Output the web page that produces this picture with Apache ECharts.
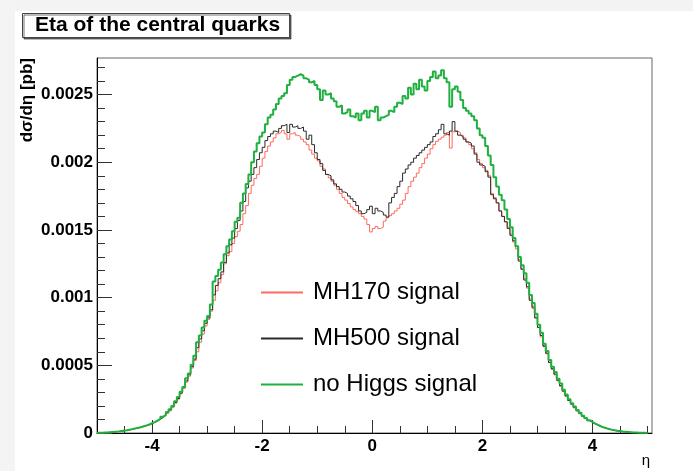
<!DOCTYPE html>
<html>
<head>
<meta charset="utf-8">
<script src="https://cdn.jsdelivr.net/npm/echarts@6/dist/echarts.min.js"></script>
<style>
  html, body { margin: 0; padding: 0; background: #ffffff; }
  #chart { width: 693px; height: 471px; }
</style>
</head>
<body>
<div id="chart"></div>
<script>
// Histogram binning: 200 bins of width 0.05 from eta = -5 to 5
const BIN_LO = -5;
const BIN_W = 0.05;
// Bin contents are given in units of 1e-5 pb
const UNIT = 1e-5;

const seriesNames = ['MH170 signal', 'MH500 signal', 'no Higgs signal'];

const mh170 = [
  0.1, 0.2, 0.3, 0.4, 0.5, 0.7, 0.9, 1.1, 1.4, 1.7,
  2.0, 2.3, 2.7, 3.2, 3.7, 4.2, 4.8, 5.4, 6.0, 6.9,
  7.8, 8.8, 10.0, 11.4, 12.8, 14.6, 16.5, 19.0, 22.0, 25.0,
  29, 33, 37.5, 42, 48, 53.5, 60, 67, 73, 79,
  84, 90, 98, 105, 111, 117, 125, 131, 134, 140,
  145, 149, 154, 162, 168, 177, 183, 188, 191, 197,
  203, 208, 212, 215, 218, 221, 222, 223.5, 221, 217,
  221, 222, 220, 219, 217, 215, 213, 209, 206, 203,
  201, 197, 195, 191, 188.5, 186, 183, 180, 177, 174,
  172, 169.5, 167, 165, 163.5, 162, 160, 158, 154, 148.5,
  151, 152.5, 151, 152, 156.5, 159, 160.5, 162, 164, 166,
  169, 172, 177, 182, 186, 189, 192, 196, 199, 203,
  206, 210, 213, 215.5, 217, 218.5, 220, 222, 210.5, 222.5,
  223, 222, 220, 218, 215, 213, 210, 207, 202, 199,
  196, 194, 190, 177, 174, 170, 164, 160, 156, 152,
  147, 141, 136, 128, 121, 114, 107, 99, 92, 85,
  78, 71, 64.5, 58.5, 52.5, 47, 43, 38.5, 34.5, 30.5,
  27, 24, 21, 18.5, 16.2, 14.2, 12.2, 10.6, 9.0, 7.8,
  6.7, 5.7, 4.8, 4.0, 3.4, 2.8, 2.3, 1.9, 1.6, 1.3,
  1.0, 0.8, 0.6, 0.5, 0.4, 0.3, 0.2, 0.15, 0.1, 0.05
];

const mh500 = [
  0.1, 0.2, 0.3, 0.4, 0.5, 0.7, 0.9, 1.2, 1.4, 1.7,
  2.0, 2.4, 2.8, 3.3, 3.8, 4.3, 4.8, 5.5, 6.1, 7.0,
  7.9, 9.0, 10.2, 11.6, 13.0, 15.0, 17.0, 19.5, 22.5, 25.5,
  29.5, 33.5, 38.5, 43.0, 49.0, 54.5, 63.0, 69.5, 75.5, 81.0,
  85, 91, 102, 109, 114, 119, 126, 133, 139, 144,
  151, 157, 164, 171, 181, 186, 191, 196, 202, 207,
  211, 216, 219, 221, 223, 222, 225, 227, 228, 222,
  228, 226, 227, 225, 226, 223, 217, 220, 213, 207,
  202, 199, 194, 191, 190, 187, 184, 182, 180, 178,
  177, 175, 173, 171, 168, 164, 162, 163, 165, 167.5,
  162, 166, 164, 163, 161, 159.5, 170, 174, 177, 182,
  186, 192, 195, 198, 200, 203, 205, 207, 209, 211,
  213, 215, 219, 221, 224, 228, 221, 220, 223, 230,
  223, 220, 219, 217, 215, 214, 212, 206, 200, 198,
  197, 193, 189, 176, 173, 170, 164, 160, 156, 151,
  146, 142, 138, 127, 121, 113, 108, 98, 93, 85,
  78, 72, 64, 59, 52, 47.5, 43.5, 39, 35, 31,
  27.5, 24, 21.5, 19, 16.5, 14.5, 12.5, 10.8, 9.2, 8.0,
  6.8, 5.8, 4.9, 4.1, 3.5, 2.9, 2.4, 2.0, 1.6, 1.3,
  1.1, 0.8, 0.6, 0.5, 0.4, 0.3, 0.2, 0.15, 0.1, 0.05
];

const noHiggs = [
  0.1, 0.2, 0.3, 0.4, 0.6, 0.8, 1.0, 1.2, 1.5, 1.8,
  2.1, 2.5, 2.9, 3.4, 3.9, 4.3, 5.0, 5.6, 6.3, 7.2,
  8.0, 9.2, 10.5, 12.0, 13.4, 15.6, 17.5, 20.0, 23.5, 26.5,
  30.5, 34.0, 40.5, 44.0, 50.5, 57.0, 67.0, 72.0, 78.0, 83.0,
  86.5, 95.0, 112.0, 116.0, 120.5, 126.0, 132.0, 138.0, 143.0, 149.0,
  156, 159, 170, 177, 184, 191, 200, 208, 214, 219,
  222, 228, 233, 235, 239, 243, 247, 249, 251, 257,
  261, 263, 264, 265, 264, 262, 261, 259, 260, 257,
  254, 246, 253, 250, 251, 247, 245, 241, 242, 236,
  237, 239, 234, 233, 236, 231, 236, 238, 233, 238,
  237, 241, 231, 233, 234, 235, 238, 237, 241, 244,
  243, 249, 247, 255, 250, 258, 254, 261, 256, 253,
  260, 263, 267, 262, 264, 268, 262, 259, 241, 254,
  256, 252, 246, 240, 238, 236, 234, 231, 225, 220,
  218, 212, 205, 198, 189, 182, 176, 172, 165, 158,
  152, 144, 138, 130, 124, 118, 111, 102, 96, 88,
  80, 74, 66, 60.5, 54, 49, 45, 40, 36.5, 32,
  28.5, 25, 22, 19.5, 17, 15, 12.8, 11, 9.5, 8.2,
  7.0, 6.0, 5.0, 4.2, 3.6, 3.0, 2.5, 2.1, 1.7, 1.4,
  1.1, 0.9, 0.7, 0.5, 0.4, 0.3, 0.2, 0.15, 0.1, 0.05
];

// Axis ticks and labels
const xMajorTicks = [-4, -2, 0, 2, 4];
const xMinorTicks = [-4.5, -4, -3.5, -3, -2.5, -2, -1.5, -1, -0.5, 0, 0.5, 1, 1.5, 2, 2.5, 3, 3.5, 4, 4.5, 5];
const yMajorTicks = [0, 0.0005, 0.001, 0.0015, 0.002, 0.0025];
const yMinorTicks = [0, 0.0001, 0.0002, 0.0003, 0.0004, 0.0005, 0.0006, 0.0007, 0.0008, 0.0009,
  0.001, 0.0011, 0.0012, 0.0013, 0.0014, 0.0015, 0.0016, 0.0017, 0.0018, 0.0019,
  0.002, 0.0021, 0.0022, 0.0023, 0.0024, 0.0025, 0.0026, 0.0027];

const X_MIN = -5, X_MAX = 5.08;
const Y_MIN = 0, Y_MAX = 0.00277;

// Turn bin contents into step-line points at the bin edges
function histPoints(values) {
  const pts = values.map((v, i) => [BIN_LO + i * BIN_W, v * UNIT]);
  pts.push([BIN_LO + values.length * BIN_W, values[values.length - 1] * UNIT]);
  return pts;
}

const FONT = '"Liberation Sans", Arial, Helvetica, sans-serif';

const chart = echarts.init(document.getElementById('chart'), null, { renderer: 'canvas' });

const axisCommonX = { type: 'value', min: X_MIN, max: X_MAX, position: 'bottom', splitLine: { show: false } };
const axisCommonY = { type: 'value', min: Y_MIN, max: Y_MAX, position: 'left', splitLine: { show: false } };

chart.setOption({
  animation: false,
  backgroundColor: '#ffffff',
  title: {
    text: 'Eta of the central quarks',
    left: 22, top: 13,
    padding: [2, 10, 2, 13],
    backgroundColor: '#ffffff',
    borderColor: '#444',
    borderWidth: 1,
    shadowColor: 'rgba(0,0,0,0.55)',
    shadowOffsetX: 1.5, shadowOffsetY: 1.5, shadowBlur: 0,
    textStyle: { fontFamily: FONT, fontWeight: 'bold', fontSize: 21, color: '#000' }
  },
  grid: {
    left: 97, top: 58, width: 555, height: 375,
    show: true, borderColor: '#666', borderWidth: 1, backgroundColor: 'transparent'
  },
  legend: {
    orient: 'vertical',
    left: 261, top: 279,
    padding: 0,
    icon: 'rect',
    itemWidth: 42, itemHeight: 2, itemGap: 19,
    data: seriesNames,
    textStyle: { fontFamily: FONT, fontSize: 24, color: '#000', padding: [0, 0, 0, 5], lineHeight: 27 }
  },
  xAxis: [
    Object.assign({}, axisCommonX, {
      axisLine: { show: true, onZero: false, lineStyle: { color: '#000', width: 1 } },
      axisTick: { show: true, inside: true, length: 7, customValues: xMinorTicks, lineStyle: { color: '#333' } },
      axisLabel: {
        show: true, customValues: xMajorTicks, margin: 5,
        fontFamily: FONT, fontWeight: 'bold', fontSize: 17, color: '#000',
        formatter: v => String(v)
      }
    }),
    Object.assign({}, axisCommonX, {
      axisLine: { show: false, onZero: false },
      axisTick: { show: true, inside: true, length: 13, customValues: xMajorTicks, lineStyle: { color: '#333' } },
      axisLabel: { show: false }
    })
  ],
  yAxis: [
    Object.assign({}, axisCommonY, {
      axisLine: { show: true, onZero: false, lineStyle: { color: '#000', width: 1 } },
      axisTick: { show: true, inside: true, length: 8, customValues: yMinorTicks, lineStyle: { color: '#333' } },
      axisLabel: {
        show: true, customValues: yMajorTicks, margin: 4,
        fontFamily: FONT, fontWeight: 'bold', fontSize: 17, color: '#000',
        formatter: v => String(+v.toFixed(4))
      }
    }),
    Object.assign({}, axisCommonY, {
      axisLine: { show: false, onZero: false },
      axisTick: { show: true, inside: true, length: 15, customValues: yMajorTicks, lineStyle: { color: '#333' } },
      axisLabel: { show: false }
    })
  ],
  series: [
    {
      name: seriesNames[0], type: 'line', step: 'end', symbol: 'none',
      data: histPoints(mh170), z: 3,
      itemStyle: { color: '#ff6a5c' },
      lineStyle: { color: '#ff6a5c', width: 1 }
    },
    {
      name: seriesNames[1], type: 'line', step: 'end', symbol: 'none',
      data: histPoints(mh500), z: 4,
      itemStyle: { color: '#2a2a2a' },
      lineStyle: { color: '#2a2a2a', width: 1 }
    },
    {
      name: seriesNames[2], type: 'line', step: 'end', symbol: 'none',
      data: histPoints(noHiggs), z: 5,
      itemStyle: { color: '#1fb040' },
      lineStyle: { color: '#1fb040', width: 2 }
    }
  ],
  graphic: [
    // light window margins along the top and left edges
    { type: 'rect', left: 0, top: 0, shape: { width: 693, height: 11 }, style: { fill: '#f3f3f3' }, z: -10 },
    { type: 'rect', left: 0, top: 0, shape: { width: 15, height: 471 }, style: { fill: '#f4f4f4' }, z: -10 },
    // axis titles
    {
      type: 'text', x: 27, y: 58, rotation: Math.PI / 2,
      style: { text: 'd\u03c3/d\u03b7 [pb]', font: 'bold 17px ' + FONT, fill: '#000', align: 'right', verticalAlign: 'middle' }
    },
    {
      type: 'text', x: 646, y: 461,
      style: { text: '\u03b7', font: '15px ' + FONT, fill: '#000', align: 'center', verticalAlign: 'middle' }
    }
  ]
});
</script>
</body>
</html>
